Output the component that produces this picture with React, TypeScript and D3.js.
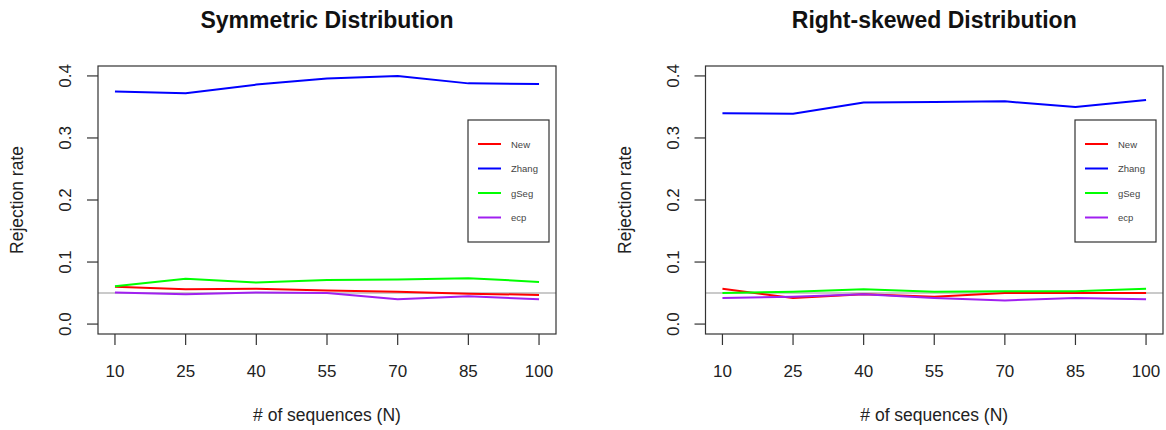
import React from "react";
import * as d3 from "d3";

// sample sizes on the x axis
const nValues = [10, 25, 40, 55, 70, 85, 100];
const yTicks = [0.0, 0.1, 0.2, 0.3, 0.4];
const methods = ["New", "Zhang", "gSeg", "ecp"];
const methodColors = ["#ff0000", "#0000ff", "#00ff00", "#a020f0"];

// symmetric distribution
const symNew = [0.06, 0.056, 0.057, 0.054, 0.052, 0.049, 0.047];
const symZhang = [0.375, 0.372, 0.386, 0.396, 0.4, 0.388, 0.387];
const symGSeg = [0.061, 0.073, 0.067, 0.071, 0.072, 0.074, 0.068];
const symEcp = [0.051, 0.048, 0.051, 0.05, 0.04, 0.045, 0.04];

// right-skewed distribution
const skewNew = [0.057, 0.042, 0.048, 0.044, 0.05, 0.05, 0.05];
const skewZhang = [0.34, 0.339, 0.357, 0.358, 0.359, 0.35, 0.361];
const skewGSeg = [0.05, 0.052, 0.056, 0.052, 0.053, 0.053, 0.057];
const skewEcp = [0.042, 0.044, 0.048, 0.042, 0.038, 0.042, 0.04];

const nominalLevel = 0.05;

const font = "'Liberation Sans', Arial, Helvetica, sans-serif";

function Panel({ title, series, left, right, legendLeft }) {
  const top = 66;
  const bottom = 334;

  // R style 4% padding around data range
  const x = d3.scaleLinear().domain([6.4, 103.6]).range([left, right]);
  const y = d3.scaleLinear().domain([-0.016, 0.416]).range([bottom, top]);

  const line = d3
    .line()
    .x((d, i) => x(nValues[i]))
    .y((d) => y(d));

  const cx = (left + right) / 2;
  const legendTop = 120;

  return (
    <g>
      <text x={cx} y={28} textAnchor="middle" fontSize={23} fontWeight="bold" fill="#111">
        {title}
      </text>

      <line x1={left} x2={right} y1={y(nominalLevel)} y2={y(nominalLevel)} stroke="#b8b8b8" strokeWidth={1.5} />

      {series.map((s, k) => (
        <path key={k} d={line(s)} fill="none" stroke={methodColors[k]} strokeWidth={2} strokeLinejoin="round" />
      ))}

      <rect x={left} y={top} width={right - left} height={bottom - top} fill="none" stroke="#333" strokeWidth={1.2} />

      {nValues.map((v) => (
        <g key={v}>
          <line x1={x(v)} x2={x(v)} y1={bottom} y2={bottom + 11} stroke="#333" strokeWidth={1.2} />
          <text x={x(v)} y={377} textAnchor="middle" fontSize={17} fill="#222">
            {v}
          </text>
        </g>
      ))}

      {yTicks.map((v) => (
        <g key={v}>
          <line x1={left - 11} x2={left} y1={y(v)} y2={y(v)} stroke="#333" strokeWidth={1.2} />
          <text
            transform={`translate(${left - 27},${y(v)}) rotate(-90)`}
            textAnchor="middle"
            fontSize={17}
            fill="#222"
          >
            {v.toFixed(1)}
          </text>
        </g>
      ))}

      <text x={cx} y={421} textAnchor="middle" fontSize={17.5} fill="#222">
        # of sequences (N)
      </text>
      <text
        transform={`translate(${left - 75},${(top + bottom) / 2}) rotate(-90)`}
        textAnchor="middle"
        fontSize={17.5}
        fill="#222"
      >
        Rejection rate
      </text>

      <rect x={legendLeft} y={legendTop} width={81} height={122} fill="#fff" stroke="#333" strokeWidth={1.2} />
      {methods.map((m, k) => (
        <g key={m}>
          <line
            x1={legendLeft + 10}
            x2={legendLeft + 33}
            y1={legendTop + 24 + k * 24.5}
            y2={legendTop + 24 + k * 24.5}
            stroke={methodColors[k]}
            strokeWidth={2}
          />
          <text x={legendLeft + 43} y={legendTop + 27.5 + k * 24.5} fontSize={9.5} fill="#444">
            {m}
          </text>
        </g>
      ))}
    </g>
  );
}

export default function App() {
  return (
    <div style={{ position: "absolute", left: 0, top: 0 }}>
      <svg width={1166} height={430} style={{ display: "block", fontFamily: font }}>
        <rect width={1166} height={430} fill="#fff" />
        <Panel
          title="Symmetric Distribution"
          series={[symNew, symZhang, symGSeg, symEcp]}
          left={98}
          right={556}
          legendLeft={468}
        />
        <Panel
          title="Right-skewed Distribution"
          series={[skewNew, skewZhang, skewGSeg, skewEcp]}
          left={705.5}
          right={1163}
          legendLeft={1075}
        />
      </svg>
    </div>
  );
}
